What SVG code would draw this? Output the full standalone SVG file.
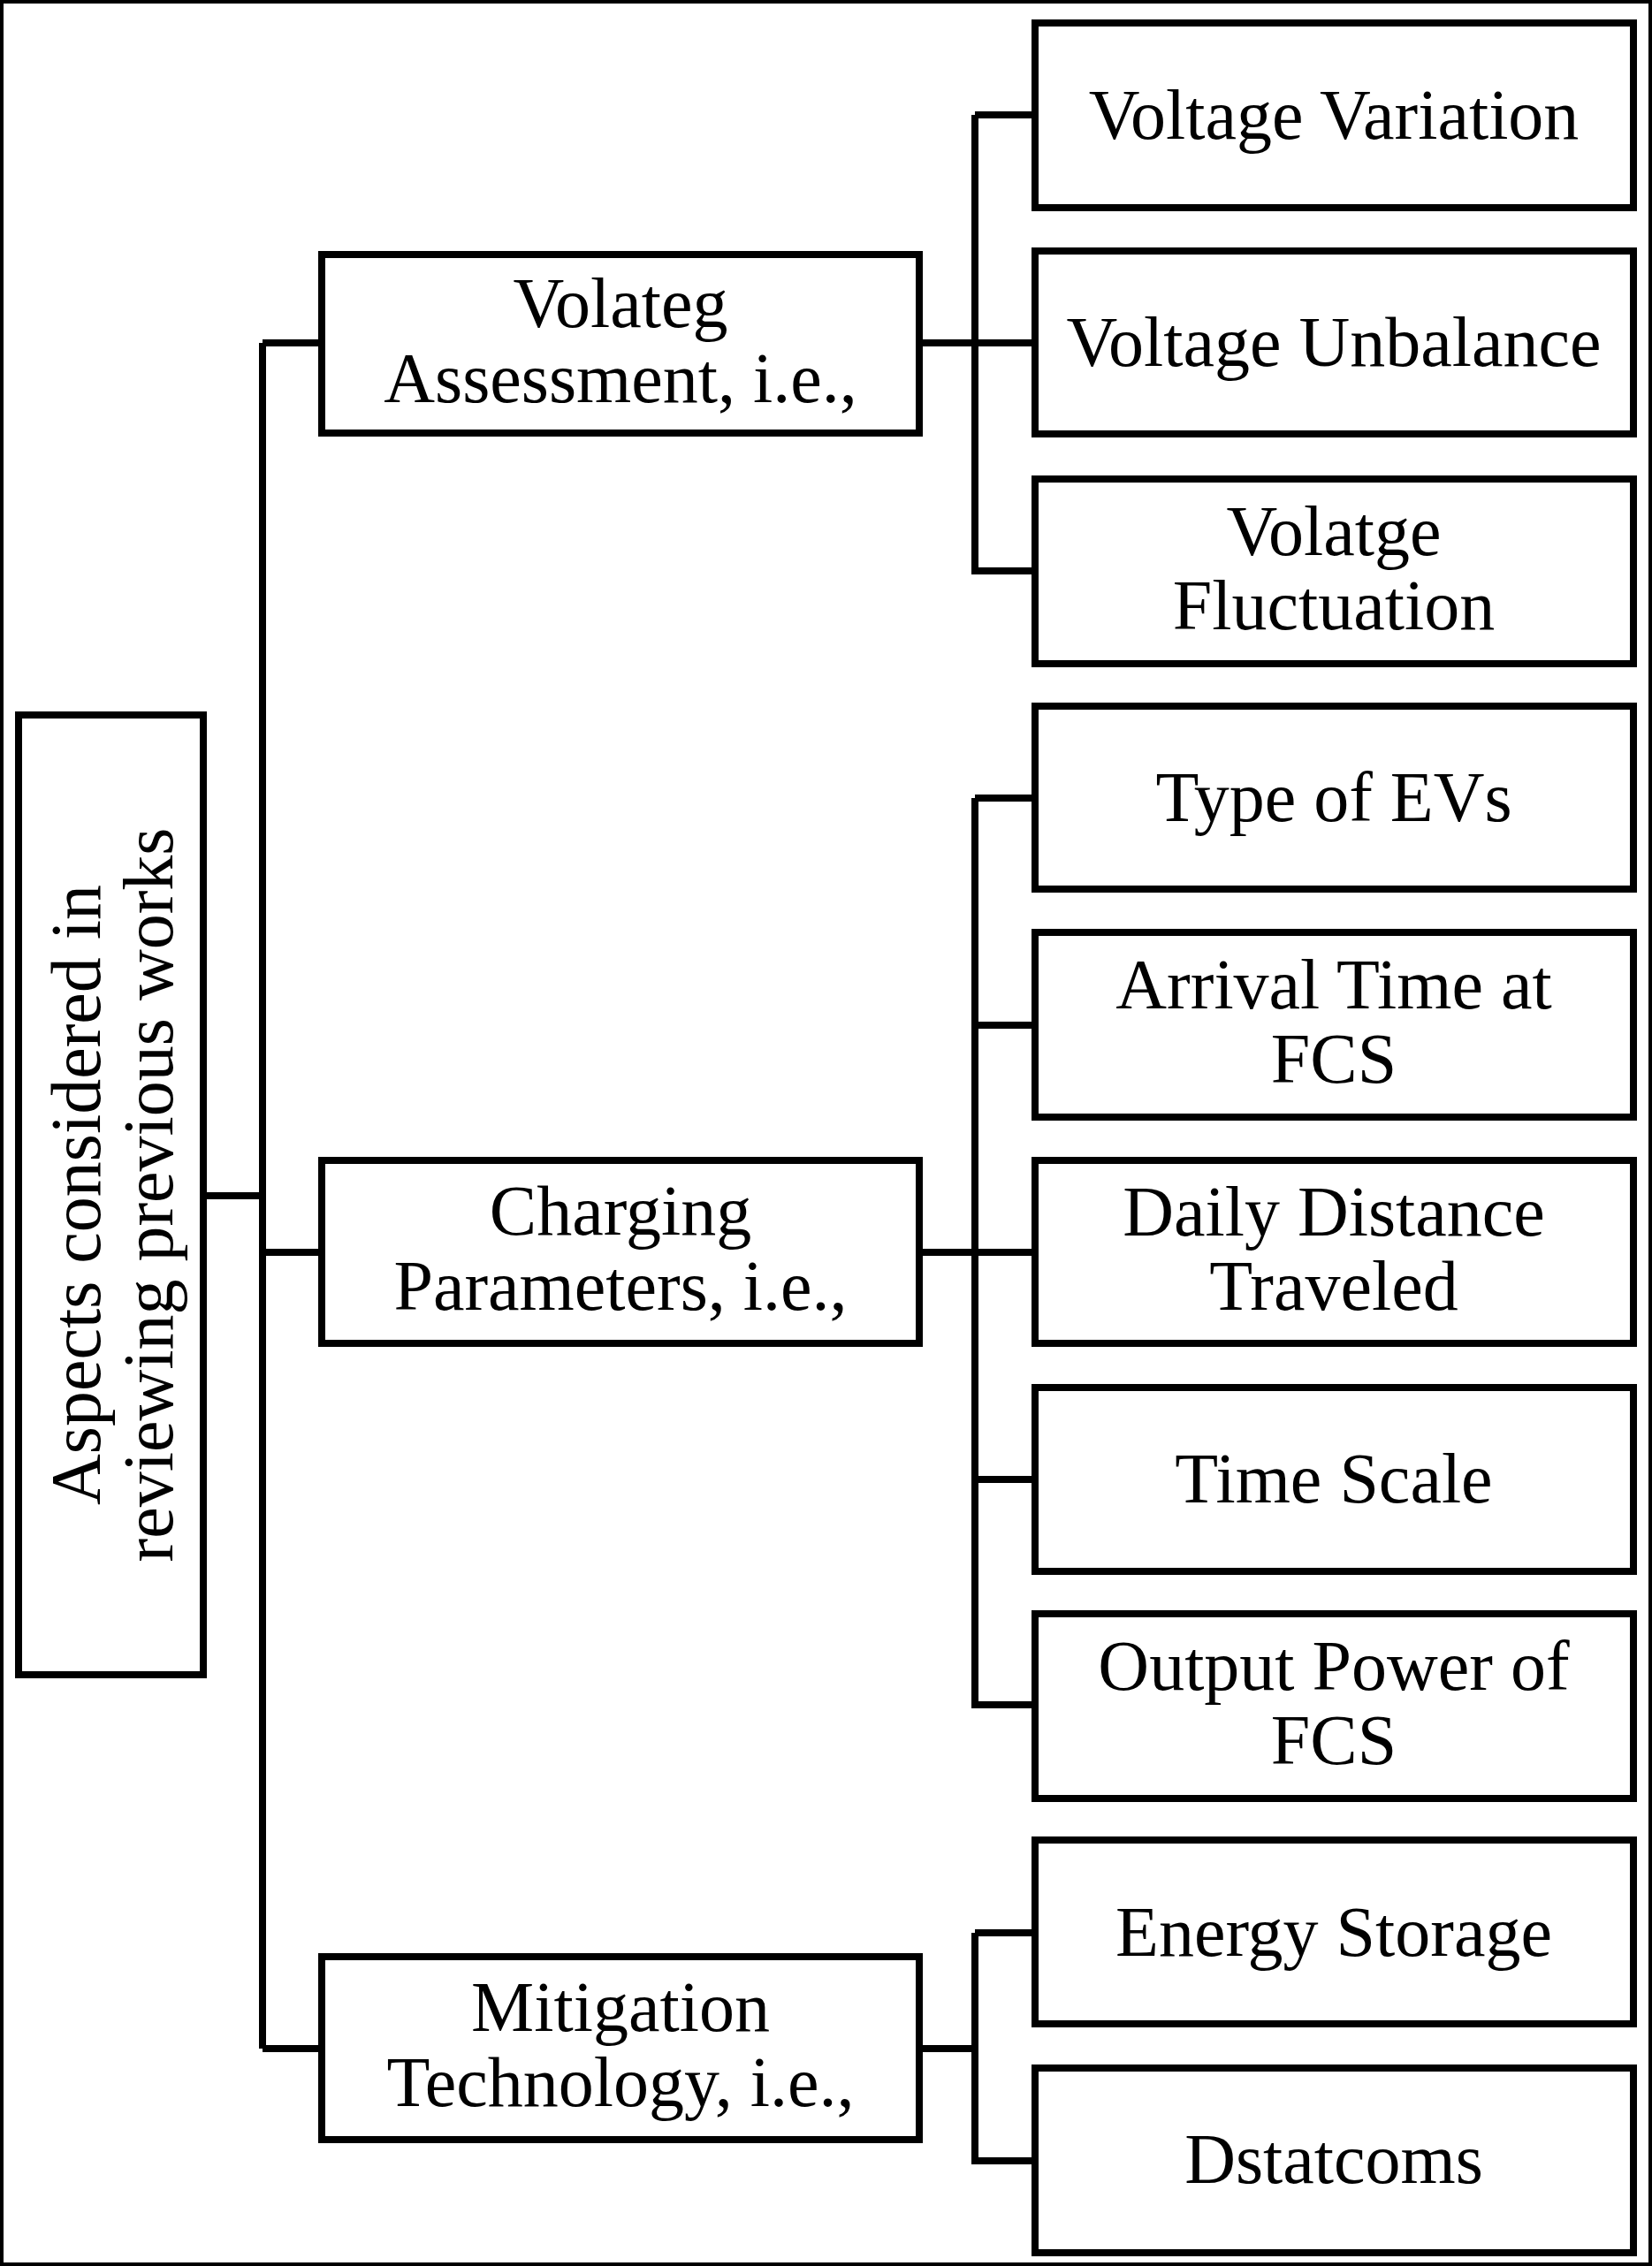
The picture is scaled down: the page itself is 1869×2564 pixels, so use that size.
<svg xmlns="http://www.w3.org/2000/svg" width="1869" height="2564" viewBox="0 0 1869 2564">
<style>
rect{fill:#fff;stroke:#000;stroke-width:8}
text{font-family:"Liberation Serif","Times New Roman",serif;font-size:80px;fill:#000;text-anchor:middle}
.c{fill:none;stroke:#000;stroke-width:8}
</style>
<rect width="1869" height="2564" fill="#fff" stroke="none"/>
<g id="connectors">
<path class="c" d="M230 1353H297M297 388V2318M297 388H364M297 1417H364M297 2318H364"/>
<path class="c" d="M1040 388H1171M1103 130V646H1171M1103 130H1171"/>
<path class="c" d="M1040 1417H1171M1103 903V1929H1171M1103 903H1171M1103 1160H1171M1103 1674H1171"/>
<path class="c" d="M1040 2318H1103M1103 2187V2445H1171M1103 2187H1171"/>
</g>
<g id="root"><rect x="21" y="809" width="209" height="1086"/>
<text transform="translate(125 1352) rotate(-90)"><tspan x="0" y="-12">Aspects considered in</tspan><tspan x="0" y="70">reviewing previous works</tspan></text></g>
<g id="volt"><rect x="364" y="288" width="676" height="202"/><text x="702" y="370">Volateg</text><text x="702" y="455">Assessment, i.e.,</text></g>
<g id="charg"><rect x="364" y="1313" width="676" height="207"/><text x="702" y="1397">Charging</text><text x="702" y="1482">Parameters, i.e.,</text></g>
<g id="mitig"><rect x="364" y="2214" width="676" height="207"/><text x="702" y="2298">Mitigation</text><text x="702" y="2383">Technology, i.e.,</text></g>
<g id="n1"><rect x="1171" y="26" width="677" height="209"/><text x="1509" y="157">Voltage Variation</text></g>
<g id="n2"><rect x="1171" y="284" width="677" height="207"/><text x="1509" y="414">Voltage Unbalance</text></g>
<g id="n3"><rect x="1171" y="542" width="677" height="209"/><text x="1509" y="628">Volatge</text><text x="1509" y="712">Fluctuation</text></g>
<g id="n4"><rect x="1171" y="799" width="677" height="207"/><text x="1509" y="929">Type of EVs</text></g>
<g id="n5"><rect x="1171" y="1055" width="677" height="209"/><text x="1509" y="1141">Arrival Time at</text><text x="1509" y="1225">FCS</text></g>
<g id="n6"><rect x="1171" y="1313" width="677" height="207"/><text x="1509" y="1398">Daily Distance</text><text x="1509" y="1482">Traveled</text></g>
<g id="n7"><rect x="1171" y="1570" width="677" height="208"/><text x="1509" y="1700">Time Scale</text></g>
<g id="n8"><rect x="1171" y="1826" width="677" height="209"/><text x="1509" y="1912">Output Power of</text><text x="1509" y="1996">FCS</text></g>
<g id="n9"><rect x="1171" y="2082" width="677" height="208"/><text x="1509" y="2213">Energy Storage</text></g>
<g id="n10"><rect x="1171" y="2340" width="677" height="209"/><text x="1509" y="2470">Dstatcoms</text></g>
</svg>
